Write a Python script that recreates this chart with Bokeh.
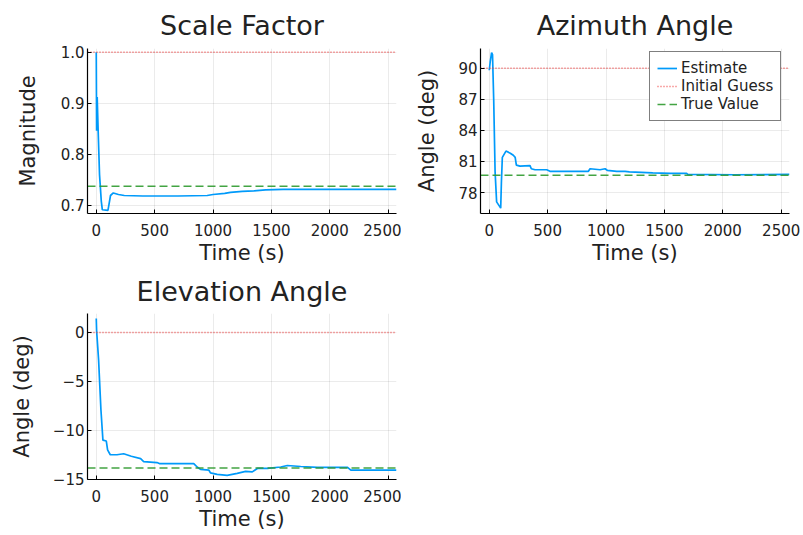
from bokeh.plotting import figure
from bokeh.models import Range1d, FixedTicker, Legend, LegendItem
from bokeh.layouts import column, row
from bokeh.embed import file_html
from bokeh.resources import INLINE

FONT = "DejaVu Sans"
INK = "#222222"
BLUE = "#009afa"
RED = "#f03a3a"
GREEN = "#2f9a2f"

# ---- estimator history (time in seconds) ----
scale_t = [0, 3, 8, 17, 28, 43, 52, 100, 108, 122, 146, 190, 240, 400, 700,
           950, 1000, 1100, 1150, 1250, 1350, 1450, 1600, 1900, 2571]
scale_v = [1.0, 0.846, 0.912, 0.84, 0.76, 0.708, 0.691, 0.690, 0.700, 0.719,
           0.724, 0.721, 0.719, 0.718, 0.718, 0.719, 0.721, 0.723, 0.725,
           0.727, 0.728, 0.730, 0.731, 0.731, 0.731]

az_t = [0, 8, 20, 28, 38, 50, 63, 98, 104, 112, 143, 180, 206, 222, 232, 263,
        349, 360, 392, 492, 520, 849, 863, 949, 992, 1010, 1092, 1163, 1200,
        1300, 1400, 1550, 1690, 1700, 2100, 2571]
az_v = [89.8, 90.6, 91.5, 91.3, 87.0, 80.0, 77.1, 76.5, 79.0, 81.4, 82.0,
        81.8, 81.6, 81.4, 80.65, 80.55, 80.6, 80.3, 80.2, 80.2, 80.05, 80.05,
        80.3, 80.2, 80.3, 80.15, 80.05, 80.05, 80.0, 79.95, 79.9, 79.85,
        79.85, 79.75, 79.72, 79.75]

el_t = [0, 3, 20, 40, 57, 86, 97, 120, 177, 235, 300, 380, 406, 520, 540,
        835, 864, 893, 965, 978, 1035, 1121, 1207, 1279, 1336, 1380, 1465,
        1580, 1636, 1751, 1894, 2152, 2180, 2571]
el_v = [1.43, 0.2, -2.8, -7.9, -11.0, -11.1, -12.0, -12.5, -12.5, -12.4,
        -12.65, -12.9, -13.2, -13.3, -13.4, -13.4, -13.75, -14.0, -14.08,
        -14.35, -14.5, -14.6, -14.4, -14.2, -14.25, -13.9, -13.9, -13.75,
        -13.6, -13.7, -13.8, -13.8, -14.08, -14.08]

# ---- reference levels ----
scale_guess, scale_true = 1.0, 0.737
az_guess, az_true = 90.0, 79.67
el_guess, el_true = 0.0, -13.85

# ---- axes ----
time_ticks = [0, 500, 1000, 1500, 2000, 2500]
x_lo, x_hi = -75, 2571
scale_ticks = [0.7, 0.8, 0.9, 1.0]
scale_tick_labels = ["0.7", "0.8", "0.9", "1.0"]
az_ticks = [78, 81, 84, 87, 90]
az_tick_labels = ["78", "81", "84", "87", "90"]
el_ticks = [-15, -10, -5, 0]
el_tick_labels = ["\u221215", "\u221210", "\u22125", "0"]


def panel(title, ylabel, t, v, guess, true, yr, yticks, ylabels,
          left, right, top, bottom, fw, fh, ylabel_standoff, title_standoff):
    p = figure(frame_width=fw, frame_height=fh,
               min_border_left=left, min_border_right=right,
               min_border_top=top, min_border_bottom=bottom,
               x_range=Range1d(x_lo, x_hi), y_range=Range1d(*yr),
               output_backend="svg", toolbar_location=None, title=title)
    p.outline_line_color = None
    p.background_fill_color = "white"
    p.border_fill_color = "white"

    p.title.align = "center"
    p.title.text_font = FONT
    p.title.text_font_size = "27px"
    p.title.text_font_style = "normal"
    p.title.text_color = INK
    p.title.standoff = title_standoff

    for ax in (p.xaxis[0], p.yaxis[0]):
        ax.axis_line_color = "black"
        ax.axis_line_width = 1.2
        ax.major_tick_in = 4
        ax.major_tick_out = 0
        ax.major_tick_line_color = "black"
        ax.minor_tick_line_color = None
        ax.major_label_text_font = FONT
        ax.major_label_text_font_size = "15px"
        ax.major_label_text_color = INK
        ax.axis_label_text_font = FONT
        ax.axis_label_text_font_size = "21px"
        ax.axis_label_text_font_style = "normal"
        ax.axis_label_text_color = INK

    p.xaxis.ticker = FixedTicker(ticks=time_ticks)
    p.xaxis.axis_label = "Time (s)"
    p.xaxis.major_label_standoff = 10
    p.xaxis.axis_label_standoff = 2

    p.yaxis.ticker = FixedTicker(ticks=yticks)
    p.yaxis.major_label_overrides = {tk: lb for tk, lb in zip(yticks, ylabels)}
    p.yaxis.axis_label = ylabel
    p.yaxis.major_label_standoff = 3
    p.yaxis.axis_label_standoff = ylabel_standoff

    for g in (p.xgrid[0], p.ygrid[0]):
        g.grid_line_color = "black"
        g.grid_line_alpha = 0.08
        g.grid_line_width = 1

    est = p.line(t, v, line_color=BLUE, line_width=1.7)
    ini = p.line([x_lo, x_hi], [guess, guess], line_color=RED,
                 line_width=1.4, line_dash="1 2", line_alpha=0.85)
    tru = p.line([x_lo, x_hi], [true, true], line_color=GREEN,
                 line_width=1.4, line_dash="8 4", line_alpha=0.9)
    return p, est, ini, tru


p1, *_ = panel("Scale Factor", "Magnitude", scale_t, scale_v,
               scale_guess, scale_true, (0.6837, 1.0073),
               scale_ticks, scale_tick_labels, 87, 5, 48, 54, 309, 165, 18, 15)

p2, e2, i2, t2 = panel("Azimuth Angle", "Angle (deg)", az_t, az_v,
                       az_guess, az_true, (75.98, 91.9),
                       az_ticks, az_tick_labels, 79, 14, 48, 54, 309, 165, 16, 15)

legend = Legend(items=[LegendItem(label="Estimate", renderers=[e2]),
                       LegendItem(label="Initial Guess", renderers=[i2]),
                       LegendItem(label="True Value", renderers=[t2])],
                location=(169, 92))
legend.border_line_color = "black"
legend.border_line_width = 1.2
legend.background_fill_color = "white"
legend.background_fill_alpha = 1
legend.label_text_font = FONT
legend.label_text_font_size = "15px"
legend.label_text_color = INK
legend.glyph_width = 20
legend.glyph_height = 16
legend.label_height = 18
legend.label_standoff = 4
legend.padding = 7
legend.spacing = 0
legend.margin = 0
p2.add_layout(legend, "center")

p3, *_ = panel("Elevation Angle", "Angle (deg)", el_t, el_v,
               el_guess, el_true, (-15.03, 1.94),
               el_ticks, el_tick_labels, 87, 5, 46, 56, 309, 166, 16, 13)

layout = column(row(p1, p2), row(p3))
open("out.html", "w").write(file_html(layout, INLINE))
